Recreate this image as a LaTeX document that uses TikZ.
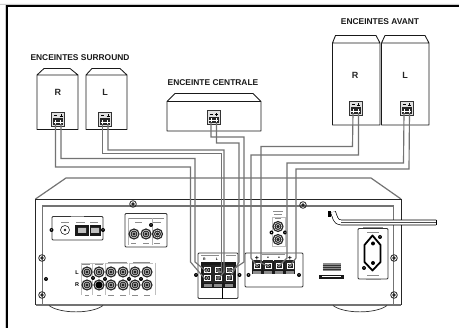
\documentclass[tikz,border=0pt]{standalone}
\usepackage{fontspec}
\setmainfont{Liberation Sans}
\tikzset{
  x=1pt,y=-1pt,
  title/.style={font=\bfseries\fontsize{8.4}{9}\selectfont,inner sep=0pt,text=black!90},
  letter/.style={font=\bfseries\fontsize{9}{9}\selectfont,inner sep=0pt,text=black!85},
  tiny/.style={font=\bfseries\fontsize{5.5}{6}\selectfont,inner sep=0pt},
  spk/.style={draw=black!90,line width=.85pt,fill=white,line join=round},
  wire/.style={draw=black!55,line width=1.15pt,line join=miter},
  chassis/.style={draw=black!55,line width=1.2pt},
  panel/.style={draw=black!80,line width=.7pt,rounded corners=1pt},
  lpanel/.style={draw=black!25,line width=.6pt},
  ticks/.style={draw=black!45,line width=.7pt}
}
\newcommand{\term}[3]{% x y name
  \draw[black!80,fill=black!12,line width=.7pt] (#1,#2) rectangle ++(13,14);
  \fill[black!85] (#1+1.5,#2+6.5) rectangle ++(10,6.5);
  \draw[white,line width=.3pt] (#1+4,#2+8)--++(0,4) (#1+9,#2+8)--++(0,4) (#1+2,#2+10)--++(9,0);
  \draw[black,line width=.6pt] (#1+2.5,#2+3.5)--++(3,0) (#1+8,#2+4)--++(3,0) (#1+9.5,#2+2.5)--++(0,3);
  \coordinate (#3m) at (#1+4,#2+12);
  \coordinate (#3p) at (#1+9.5,#2+12);
}
\newcommand{\scr}[2]{\fill[black] (#1,#2) circle (2pt); \fill[white] (#1,#2) circle (.5pt);}
\newcommand{\bigscr}[2]{\draw[black!85,line width=.8pt] (#1,#2) circle (3.3pt); \fill[black!85] (#1,#2) circle (1.9pt);}
\newcommand{\rca}[2]{\fill[black!85] (#1,#2) circle (5.6pt); \draw[white,line width=.5pt] (#1,#2) circle (3.9pt); \draw[white,line width=.4pt] (#1,#2) circle (2pt);}
\newcommand{\post}[2]{\fill[black!85] (#1-5,#2-5) rectangle ++(10,10); \draw[white,line width=.4pt] (#1-3,#2-2.5) rectangle ++(6,5); \draw[white,line width=.3pt] (#1,#2) circle (1.5pt);}
\begin{document}
\begin{tikzpicture}
\useasboundingbox (0,0) rectangle (459,328);
\fill[white] (0,0) rectangle (459,328);
\fill[black!20] (0,4) rectangle (459,5) (5,4) rectangle (6,328);
\draw[black,line width=1.9pt] (7,328)--(7,6)--(459,6);

% titles
\node[title] (t1) at (80,58) {ENCEINTES SURROUND};
\node[title] (t2) at (213,83) {ENCEINTE CENTRALE};
\node[title] (t3) at (380,22) {ENCEINTES AVANT};

% speakers
\draw[spk] (37,75)--(44,68.5)--(70,68.5)--(78,75)--(78,129.5)--(37,129.5)--cycle (37,75)--(78,75);
\draw[spk] (86,75)--(92,68.5)--(120,68.5)--(127,75)--(127,129.5)--(86,129.5)--cycle (86,75)--(127,75);
\draw[spk] (167,101.5)--(175,93.5)--(253,93.5)--(261,101.5)--(261,131)--(167,131)--cycle (167,101.5)--(261,101.5);
\draw[spk] (332.5,43)--(335.5,35.5)--(376,35.5)--(380,43)--(380,125)--(332.5,125)--cycle (332.5,43)--(380,43);
\draw[spk] (381.5,43)--(385,35.5)--(425,35.5)--(429,43)--(429,125)--(381.5,125)--cycle (381.5,43)--(429,43);
\node[letter] (sr) at (58,92) {R};
\node[letter] (sl) at (105,92) {L};
\node[letter] (fr) at (355,75.5) {R};
\node[letter] (fl) at (405,75.5) {L};
\term{51.5}{112}{a}
\term{98.5}{112}{b}
\term{207}{110.5}{c}
\term{349}{101}{d}
\term{400}{101}{e}

% chassis
\draw[chassis] (35.5,199)--(66,178)--(371,178)--(401,199);
\draw[black!85,line width=.8pt] (35.5,199)--(401,199)--(401,305);
\draw[black!85,line width=.8pt] (35.5,199)--(35.5,305);
\draw[chassis] (35.5,305)--(401,305);
\draw[chassis] (42.5,305)--(42.5,206)--(393.5,206)--(393.5,305);
\draw[black!80,line width=.7pt] (49,305.5) .. controls (60,314) and (92,314) .. (103,305.5);
\draw[black!80,line width=.7pt] (333,305.5) .. controls (344,314) and (376,314) .. (387,305.5);
\bigscr{133}{204}\bigscr{303}{205}
\bigscr{42}{258}\bigscr{42}{295}\bigscr{394}{258}\bigscr{394}{295}
\scr{46}{279}

% antenna panel
\draw[panel,line width=.9pt] (52,216.5) rectangle (103,240);
\draw[ticks] (71,216)--(84,216);
\draw[black!85,line width=.6pt] (65,230) circle (4.5pt); \fill[black!85] (65,230) circle (1.4pt);
\draw[ticks] (61,222)--(69,222) (76,222)--(85,222) (90,222)--(98,222);
\fill[black!90] (75,225.5) rectangle (101,236.5);
\fill[white!75!black] (78,228) rectangle (86,233) (91,228) rectangle (99,233);
\fill[white] (88.5,225) rectangle (89.5,237);
\scr{51.5}{230}\scr{103}{230}

% video panel
\draw[panel,line width=.9pt] (125,213.5) rectangle (167,247);
\draw[ticks] (128,218)--(164,218) (135,222)--(142,222) (153,222)--(161,222) (131,243)--(136,243) (143,243)--(149,243) (154,243)--(160,243);
\draw[black!30,line width=.5pt] (128,218)--(128,245) (152,218)--(152,245);
\rca{134}{234}\rca{146}{234}\rca{157.5}{234}
\scr{151}{225}

% audio inputs
\draw[lpanel] (81,263)--(104,263) (106,263)--(128,263) (129,263)--(153,263) (81,263)--(81,295) (92.5,263)--(92.5,295) (105,263)--(105,295) (129,263)--(129,295) (155,263)--(155,295);
\draw[ticks] (82,264)--(90,264) (95,264)--(103,264) (108,262)--(127,262) (133,262)--(150,262)
 (85,295)--(89,295) (97,295)--(101,295) (108,295)--(114,295) (120,295)--(126,295) (132,295)--(138,295) (144,295)--(150,295);
\foreach \x in {87,99,111,123,135,147}{\rca{\x}{272}\rca{\x}{285}}
\fill[black] (99,285) circle (3.5pt);
\node[tiny] (lin) at (77,273) {L};
\node[tiny] (rin) at (77,285) {R};
\scr{93}{278}\scr{105}{279}\scr{129}{279}\scr{141}{279}

% surround/centre speaker terminals
\draw[panel,line width=.8pt] (198,253) rectangle (238,298.5);
\draw[black,line width=1pt] (222.3,288)--(222.3,299);
\draw[ticks] (201,255)--(219,255) (226,255)--(236,255);
\node[tiny,font=\bfseries\fontsize{3.5}{4}\selectfont] (srl) at (204.5,259) {R};
\node[tiny,font=\bfseries\fontsize{3.5}{4}\selectfont] (sll) at (217,259) {L};
\fill[black!90] (201,262) rectangle (236,288);
\foreach \x in {207.5,218,229}{
  \post{\x}{270}\post{\x}{278}
  \fill[black!45] (\x-4,284) rectangle ++(8,2.6);
}
\scr{196}{275}\scr{239.5}{275}

% front terminals
\draw[panel,line width=.8pt] (245,253) rectangle (303,287);
\draw[ticks] (262,254.5)--(285,254.5);
\fill[black!90] (252,261) rectangle (295,274.5);
\foreach \x in {257,268,279,290}{
  \post{\x}{265.5}
  \fill[black!45] (\x-4,271) rectangle ++(8,3);
}
\node[tiny,font=\bfseries\fontsize{7}{7}\selectfont] (p1) at (257,258) {+};
\node[tiny,font=\bfseries\fontsize{7}{7}\selectfont] (m1) at (268,258) {-};
\node[tiny,font=\bfseries\fontsize{7}{7}\selectfont] (m2) at (279,258) {-};
\node[tiny,font=\bfseries\fontsize{7}{7}\selectfont] (p2) at (290,258) {+};
\scr{248.5}{275}\scr{299}{275}

% system control
\draw[lpanel] (272,217)--(272,246)--(285,246)--(285,217)--cycle;
\draw[ticks] (273,211)--(283,211) (274,214)--(282,214) (275,218)--(281,218);
\rca{278}{226.5}\rca{278}{239.5}
\scr{271.5}{232.5}\scr{285}{232.5}

% power cord
\draw[black,line width=5.6pt,line join=round] (436,222.5)--(341,222.5) .. controls (335,222.5) and (335,216) .. (333,212);
\draw[white,line width=4.2pt,line join=round] (436,222.5)--(341,222.5) .. controls (335,222.5) and (335,216) .. (333,212);
\draw[black!70,line width=.7pt] (341,222.5)--(436,222.5);
\fill[black] (328,211) rectangle (331,217);
\draw[black,line width=.8pt] (436,219.7)--(436,225.3);

% power outlet
\draw[panel,line width=.9pt] (358,228.5) rectangle (388,279);
\draw[ticks] (363,227.5)--(383,227.5) (367,232)--(379,232) (367,275)--(379,275) (366,279)--(381,279);
\draw[black,line width=1.8pt,line join=round,fill=white] (372.5,235.5)--(380.5,245)--(380.5,262)--(372.5,270.5)--(364.5,262)--(364.5,245)--cycle;
\fill[black] (373,243.5) circle (2pt) (373,263) circle (2pt);
\scr{380}{237}\scr{364}{268}

% slots
\fill[black!45] (322.5,263) rectangle (341,271);
\draw[black!80,line width=.5pt] (322.5,265)--(341,265) (322.5,267)--(341,267) (322.5,269)--(341,269);
\fill[black!90] (319,275) rectangle (344,279);
\fill[white] (322,276.3) rectangle (341,277.5);

% wires
\coordinate (wa1) at (207,272);
\coordinate (wa2) at (205,279);
\coordinate (wb1) at (218,272);
\coordinate (wb2) at (218,279);
\coordinate (wc1) at (229,272);
\coordinate (wc2) at (229,279);
\coordinate (wd1) at (257,266);
\coordinate (wd2) at (268,266);
\coordinate (we1) at (279,266);
\coordinate (we2) at (290,266);
\draw[wire] (am)--(55.5,167)--(190.5,167)--(190.5,262)--(wa2);
\draw[wire] (ap)--(61,158.5)--(195,158.5)--(195,262)--(wa1);
\draw[wire] (bm)--(102.5,153.5)--(221.5,153.5)--(221.5,272)--(wb1);
\draw[wire] (bp)--(108,150)--(224,150)--(224,272)--(wb2);
\draw[wire] (cm)--(211,137)--(244,137)--(244,262)--(wc1);
\draw[wire] (cp)--(216.5,143)--(239,143)--(239,262)--(wc2);
\draw[wire] (dm)--(352.5,146.5)--(261,146.5)--(261,263)--(wd2);
\draw[wire] (dp)--(358.5,155)--(251,155)--(251,258)--(wd1);
\draw[wire] (em)--(403.5,163)--(287,163)--(287,258)--(we1);
\draw[wire] (ep)--(409,169)--(296,169)--(296,258)--(we2);
\end{tikzpicture}
\end{document}
